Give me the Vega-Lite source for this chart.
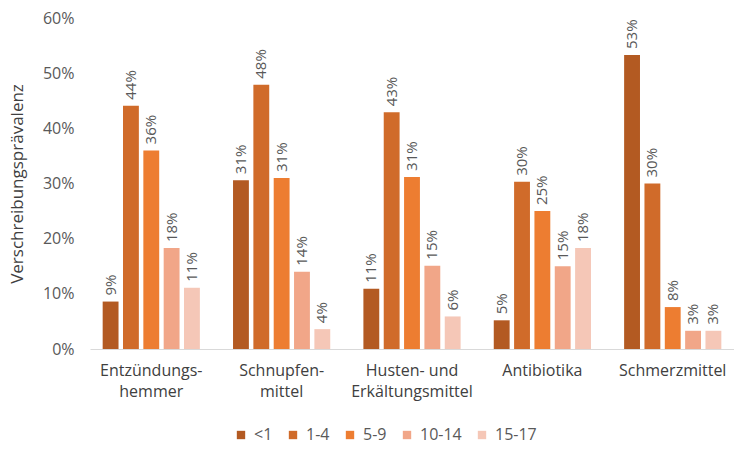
{
  "$schema": "https://vega.github.io/schema/vega-lite/v6.json",
  "width": 644,
  "height": 331,
  "autosize": {"type": "none"},
  "padding": {"left": 90, "top": 18, "right": 0, "bottom": 100},
  "background": "white",
  "config": {"view": {"stroke": null}, "font": "Open Sans"},
  "data": {"values": [
    {"Kategorie": "Entzündungshemmer", "Alter": "<1", "Wert": 0.086},
    {"Kategorie": "Entzündungshemmer", "Alter": "1-4", "Wert": 0.441},
    {"Kategorie": "Entzündungshemmer", "Alter": "5-9", "Wert": 0.36},
    {"Kategorie": "Entzündungshemmer", "Alter": "10-14", "Wert": 0.183},
    {"Kategorie": "Entzündungshemmer", "Alter": "15-17", "Wert": 0.111},
    {"Kategorie": "Schnupfenmittel", "Alter": "<1", "Wert": 0.306},
    {"Kategorie": "Schnupfenmittel", "Alter": "1-4", "Wert": 0.479},
    {"Kategorie": "Schnupfenmittel", "Alter": "5-9", "Wert": 0.31},
    {"Kategorie": "Schnupfenmittel", "Alter": "10-14", "Wert": 0.14},
    {"Kategorie": "Schnupfenmittel", "Alter": "15-17", "Wert": 0.036},
    {"Kategorie": "Husten- und Erkältungsmittel", "Alter": "<1", "Wert": 0.109},
    {"Kategorie": "Husten- und Erkältungsmittel", "Alter": "1-4", "Wert": 0.429},
    {"Kategorie": "Husten- und Erkältungsmittel", "Alter": "5-9", "Wert": 0.312},
    {"Kategorie": "Husten- und Erkältungsmittel", "Alter": "10-14", "Wert": 0.151},
    {"Kategorie": "Husten- und Erkältungsmittel", "Alter": "15-17", "Wert": 0.059},
    {"Kategorie": "Antibiotika", "Alter": "<1", "Wert": 0.052},
    {"Kategorie": "Antibiotika", "Alter": "1-4", "Wert": 0.303},
    {"Kategorie": "Antibiotika", "Alter": "5-9", "Wert": 0.25},
    {"Kategorie": "Antibiotika", "Alter": "10-14", "Wert": 0.15},
    {"Kategorie": "Antibiotika", "Alter": "15-17", "Wert": 0.183},
    {"Kategorie": "Schmerzmittel", "Alter": "<1", "Wert": 0.533},
    {"Kategorie": "Schmerzmittel", "Alter": "1-4", "Wert": 0.3},
    {"Kategorie": "Schmerzmittel", "Alter": "5-9", "Wert": 0.076},
    {"Kategorie": "Schmerzmittel", "Alter": "10-14", "Wert": 0.033},
    {"Kategorie": "Schmerzmittel", "Alter": "15-17", "Wert": 0.033}
  ]},
  "encoding": {
    "x": {
      "field": "Kategorie", "type": "nominal",
      "sort": ["Entzündungshemmer", "Schnupfenmittel", "Husten- und Erkältungsmittel", "Antibiotika", "Schmerzmittel"],
      "scale": {"paddingInner": 0.22, "paddingOuter": 0.08},
      "axis": {
        "title": null, "labelAngle": 0, "ticks": false,
        "domainColor": "#D9D9D9", "domainWidth": 1,
        "labelFontSize": 16, "labelColor": "#404040", "labelPadding": 13, "labelLineHeight": 21,
        "labelExpr": "datum.value == 'Entzündungshemmer' ? ['Entzündungs-','hemmer'] : datum.value == 'Schnupfenmittel' ? ['Schnupfen-','mittel'] : datum.value == 'Husten- und Erkältungsmittel' ? ['Husten- und','Erkältungsmittel'] : datum.value"
      }
    },
    "xOffset": {
      "field": "Alter", "type": "nominal",
      "sort": ["<1", "1-4", "5-9", "10-14", "15-17"],
      "scale": {"paddingInner": 0.22, "paddingOuter": 0.11}
    },
    "y": {
      "field": "Wert", "type": "quantitative",
      "scale": {"domain": [0, 0.6]},
      "axis": {
        "title": "Verschreibungsprävalenz", "titleFontSize": 17, "titleFontWeight": "normal", "titleColor": "#404040", "titlePadding": 16,
        "format": ".0%", "values": [0, 0.1, 0.2, 0.3, 0.4, 0.5, 0.6],
        "grid": false, "domain": false, "ticks": false,
        "labelFontSize": 16, "labelColor": "#595959", "labelPadding": 16
      }
    }
  },
  "layer": [
    {
      "mark": {"type": "bar"},
      "encoding": {
        "color": {
          "field": "Alter", "type": "nominal",
          "sort": ["<1", "1-4", "5-9", "10-14", "15-17"],
          "scale": {"domain": ["<1", "1-4", "5-9", "10-14", "15-17"], "range": ["#B35A22", "#D06B2A", "#ED7D31", "#F1A688", "#F5C7B7"]},
          "legend": {
            "title": null, "orient": "none", "direction": "horizontal",
            "legendX": 143, "legendY": 409,
            "symbolType": "square", "symbolSize": 70, "symbolStrokeWidth": 0,
            "labelFontSize": 16, "labelColor": "#595959", "labelOffset": 5, "columnPadding": 12
          }
        }
      }
    },
    {
      "mark": {"type": "text", "angle": 270, "align": "left", "baseline": "middle", "dx": 6, "fontSize": 15, "fill": "#595959"},
      "encoding": {"text": {"field": "Wert", "type": "quantitative", "format": ".0%"}}
    }
  ]
}
